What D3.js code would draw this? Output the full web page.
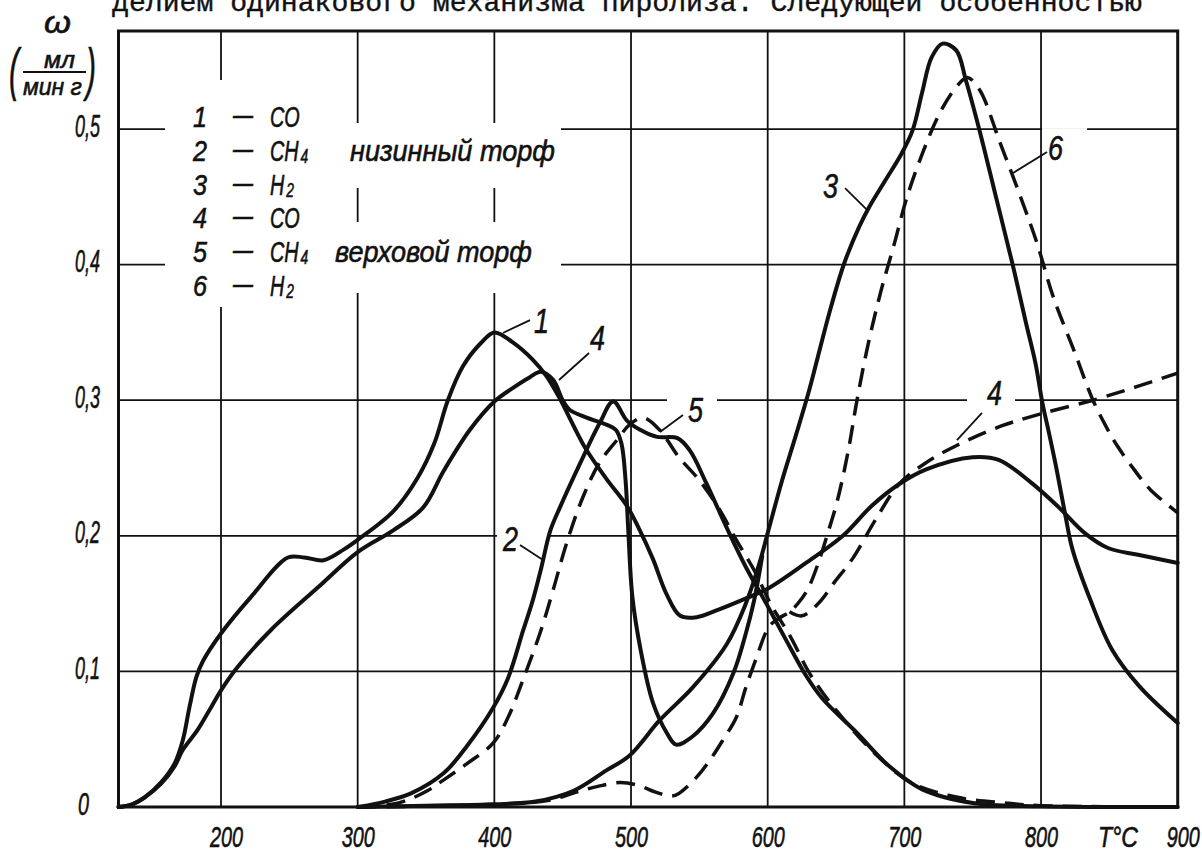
<!DOCTYPE html>
<html><head><meta charset="utf-8">
<script src="https://cdn.jsdelivr.net/npm/d3@7"></script>
<style>
html,body{margin:0;padding:0;background:#fff;}
svg{display:block;}
</style></head>
<body><svg id="chart" width="1202" height="854"></svg>
<script>
// ---------------- data ----------------
const xTicks = [200, 300, 400, 500, 600, 700, 800, 900];
const xGrid  = [200, 300, 400, 500, 600, 700, 800];
const yTicks = [0, 0.1, 0.2, 0.3, 0.4, 0.5];
const yGrid  = [0.1, 0.2, 0.3, 0.4, 0.5];

// 1 — CO, низинный торф (solid)
const co_low = [[125,0],[135,0.002],[144,0.007],[156,0.018],[166,0.032],[172,0.049],[177,0.074],[182,0.096],[187,0.108],[200,0.128],[222,0.155],[249,0.184],[261,0.184],[275,0.182],[290,0.19],[300,0.197],[326,0.218],[344,0.243],[356,0.268],[366,0.300],[377,0.325],[390,0.342],[400,0.35],[413,0.343],[428,0.33],[438,0.318],[448,0.301],[458,0.281],[467,0.264],[482,0.242],[497,0.222],[506,0.205],[516,0.183],[526,0.157],[536,0.141],[548,0.140],[565,0.146],[582,0.153],[600,0.161],[628,0.18],[655,0.2],[676,0.222],[696,0.238],[716,0.249],[750,0.258],[769,0.256],[793,0.239],[813,0.221],[832,0.202],[849,0.191],[871,0.186],[900,0.18]];
// 2 — CH4, низинный торф (solid)
const ch4_low = [[300,0],[320,0.004],[339,0.01],[363,0.025],[380,0.045],[399,0.073],[410,0.095],[421,0.13],[428,0.152],[434,0.175],[441,0.204],[448,0.221],[463,0.254],[477,0.283],[487,0.299],[497,0.285],[507,0.278],[519,0.273],[534,0.272],[543,0.263],[555,0.239],[570,0.206],[584,0.177],[599,0.150],[613,0.124],[628,0.097],[640,0.08],[665,0.055],[689,0.03],[713,0.013],[750,0.003],[800,0.0005],[900,0]];
// 3 — H2, низинный торф (solid)
const h2_low = [[300,0],[350,0.001],[400,0.002],[430,0.004],[458,0.012],[482,0.027],[499,0.038],[521,0.064],[545,0.088],[570,0.12],[584,0.15],[594,0.18],[600,0.202],[610,0.239],[620,0.272],[630,0.306],[638,0.337],[645,0.364],[656,0.401],[667,0.428],[674,0.442],[686,0.462],[698,0.482],[706,0.499],[713,0.527],[720,0.553],[728,0.563],[738,0.558],[745,0.536],[755,0.499],[767,0.45],[779,0.401],[789,0.357],[796,0.327],[801,0.298],[806,0.275],[811,0.251],[818,0.214],[823,0.19],[836,0.153],[852,0.116],[872,0.089],[900,0.062]];
// 4 — CO, верховой торф (solid part)
const co_high = [[125,0],[135,0.002],[144,0.007],[156,0.017],[166,0.03],[172,0.042],[183,0.057],[193,0.074],[200,0.086],[212,0.103],[236,0.13],[271,0.162],[300,0.188],[326,0.204],[348,0.221],[363,0.248],[382,0.278],[400,0.299],[412,0.308],[426,0.317],[434,0.321],[443,0.315],[450,0.300],[455,0.293],[468,0.287],[482,0.282],[489,0.278],[493,0.268],[496,0.241],[498,0.204],[501,0.155],[507,0.116],[516,0.077],[526,0.055],[533,0.046],[545,0.052],[560,0.069],[575,0.099],[584,0.128],[590,0.152],[596,0.185]];
// 4 — CO, верховой торф (dashed part)
const co_high_tail = [[616,0.144],[625,0.141],[637,0.15],[649,0.166],[662,0.183],[679,0.212],[696,0.238],[716,0.254],[739,0.267],[771,0.281],[800,0.29],[838,0.30],[870,0.31],[900,0.32]];
// 5 — CH4, верховой торф (dashed)
const ch4_high = [[300,0],[330,0.003],[351,0.012],[363,0.02],[380,0.032],[399,0.047],[410,0.066],[421,0.094],[434,0.13],[443,0.16],[453,0.195],[465,0.229],[477,0.254],[490,0.271],[499,0.282],[509,0.287],[521,0.278],[535,0.258],[550,0.241],[565,0.219],[577,0.197],[591,0.173],[602,0.150],[617,0.125],[631,0.098],[652,0.069],[681,0.037],[705,0.018],[737,0.0075],[774,0.003],[800,0.001],[900,0]];
// 6 — H2, верховой торф (dashed)
const h2_high = [[300,0],[400,0.002],[440,0.005],[460,0.011],[475,0.015],[492,0.018],[505,0.016],[518,0.011],[529,0.008],[535,0.010],[548,0.022],[558,0.035],[567,0.049],[577,0.066],[584,0.088],[591,0.108],[601,0.133],[608,0.139],[616,0.144],[622,0.150],[629,0.16],[636,0.177],[644,0.202],[651,0.226],[659,0.263],[665,0.298],[673,0.339],[683,0.381],[692,0.413],[702,0.45],[714,0.484],[726,0.512],[738,0.531],[746,0.538],[755,0.529],[770,0.49],[785,0.45],[797,0.416],[809,0.376],[824,0.337],[838,0.300],[849,0.278],[856,0.266],[868,0.249],[880,0.234],[900,0.217]];

const legendNums  = ["1", "2", "3", "4", "5", "6"];
const legendGases = ["CO", "CH", "H", "CO", "CH", "H"];
const legendSubs  = ["", "4", "2", "", "4", "2"];
const peatTypes   = ["низинный торф", "верховой торф"];
const titleText   = "делием одинакового механизма пиролиза. Следующей особенностью";
const yName = "ω", unitTop = "мл", unitBottom = "мин г", xName = "T°C";

// ---------------- setup ----------------
const INK = "#111";
const FONT = "'Liberation Sans','DejaVu Sans',Arial,sans-serif";
const svg = d3.select("#chart");
svg.append("rect").attr("width", 1202).attr("height", 854).attr("fill", "#fff");

const x = d3.scaleLinear().domain([125, 900]).range([118.5, 1177.7]);
const y = d3.scaleLinear().domain([0, 0.5723]).range([807, 31]);

function styleText(t, size) {
  return t.attr("font-family", FONT).attr("font-style", "italic")
    .attr("font-size", size).attr("fill", INK)
    .attr("stroke", INK).attr("stroke-width", 0.6);
}
// condensed italic label: drawn at (px,py), squeezed horizontally to width w
function label(g, px, py, s, size, w) {
  const t = styleText(g.append("text"), size).attr("x", 0).attr("y", 0).text(s);
  const nat = t.node().getComputedTextLength();
  const sx = w && nat ? w / nat : 1;
  t.attr("transform", `translate(${px},${py}) scale(${sx},1)`);
  return t;
}

// title (page text, cut by top edge as in the scan)
svg.append("text").attr("x", 112).attr("y", 11)
  .attr("font-family", "'Liberation Mono','DejaVu Sans Mono',monospace")
  .attr("font-size", 28).attr("fill", INK).attr("stroke", INK).attr("stroke-width", 0.4)
  .attr("textLength", 1030).attr("lengthAdjust", "spacingAndGlyphs")
  .text(titleText);

// ---------------- grid ----------------
const grid = svg.append("g").attr("stroke", INK).attr("stroke-width", 1.8);
grid.selectAll(".vg").data(xGrid).join("line")
  .attr("x1", d => x(d)).attr("x2", d => x(d))
  .attr("y1", y(0)).attr("y2", y(0.5723));
grid.selectAll(".hg").data(yGrid).join("line")
  .attr("x1", x(125)).attr("x2", x(900))
  .attr("y1", d => y(d)).attr("y2", d => y(d));

// white-outs behind legend (interrupt grid)
const wo = svg.append("g").attr("fill", "#fff");
wo.append("rect").attr("x", 165).attr("y", 80).attr("width", 145).attr("height", 227);
wo.append("rect").attr("x", 300).attr("y", 123).attr("width", 261).attr("height", 65);
wo.append("rect").attr("x", 300).attr("y", 222).attr("width", 261).attr("height", 71);

// ---------------- curves ----------------
const series = [
  {data: co_low, dashed: false},
  {data: ch4_low, dashed: false},
  {data: h2_low, dashed: false},
  {data: co_high, dashed: false},
  {data: co_high_tail, dashed: true},
  {data: ch4_high, dashed: true},
  {data: h2_high, dashed: true}
];
const line = d3.line().x(d => x(d[0])).y(d => y(d[1])).curve(d3.curveCatmullRom.alpha(0.5));

// curve annotations: anchor on curve (data units), leader start (data units), label offset (px)
const notes = [
  {t: "1", at: [406.3, 0.3496], from: [426.1, 0.3591], dx: 4, dy: 13},
  {t: "4", at: [447.3, 0.3149], from: [469.3, 0.3348], dx: 1, dy: -3},
  {t: "5", at: [521.2, 0.2765], from: [538.0, 0.2891], dx: 5, dy: 7, padL: 21, padR: 14},
  {t: "2", at: [435.6, 0.1822], from: [418.8, 0.1932], dx: -17, dy: 6, padL: 6, padR: 29},
  {t: "3", at: [672.7, 0.4403], from: [656.6, 0.4565], dx: -22, dy: 10},
  {t: "6", at: [779.5, 0.4676], from: [804.4, 0.4830], dx: 1, dy: 8, padL: 6, padR: 24},
  {t: "4", at: [738.5, 0.2706], from: [756.8, 0.2906], dx: 5, dy: -8, padL: 20, padR: 13}
];
notes.forEach(n => {
  if (n.padL !== undefined) {
    const lx = x(n.from[0]) + n.dx, ly = y(n.from[1]) + n.dy;
    wo.append("rect").attr("x", lx - n.padL).attr("y", ly - 32)
      .attr("width", n.padL + 15 + n.padR).attr("height", 40);
  }
});

const cg = svg.append("g").attr("fill", "none").attr("stroke", INK)
  .attr("stroke-linejoin", "round");
series.forEach(s => {
  cg.append("path").attr("d", line(s.data))
    .attr("stroke-width", s.dashed ? 3.5 : 4)
    .attr("stroke-dasharray", s.dashed ? "19,10" : null)
    .attr("stroke-linecap", s.dashed ? "butt" : "round");
});

// frame
svg.append("rect").attr("x", x(125)).attr("y", y(0.5723))
  .attr("width", x(900) - x(125)).attr("height", y(0) - y(0.5723))
  .attr("fill", "none").attr("stroke", INK).attr("stroke-width", 3);

// annotations
const ag = svg.append("g");
notes.forEach(n => {
  ag.append("line").attr("x1", x(n.at[0])).attr("y1", y(n.at[1]))
    .attr("x2", x(n.from[0])).attr("y2", y(n.from[1]))
    .attr("stroke", INK).attr("stroke-width", 1.8);
  label(ag, x(n.from[0]) + n.dx, y(n.from[1]) + n.dy, n.t, 36, 15);
});

// ---------------- axes ----------------
function squeezeAxisText(sel, size, widthOf, dxOf, yOff) {
  sel.each(function(d) {
    const t = styleText(d3.select(this), size).attr("text-anchor", "start")
      .attr("x", 0).attr("y", 0).attr("dy", 0);
    const nat = this.getComputedTextLength();
    const w = widthOf(d);
    t.attr("transform", `translate(${dxOf(d)},${yOff}) scale(${w / nat},1)`);
  });
}
const xa = svg.append("g").attr("transform", `translate(0,${y(0)})`)
  .call(d3.axisBottom(x).tickValues(xTicks).tickSize(0).tickFormat(d3.format("d")));
xa.select(".domain").remove();
squeezeAxisText(xa.selectAll("text"), 29, () => 33,
  d => (d === 200 || d === 900 ? 5 : 0) - 16.5, 40);

const ya = svg.append("g").attr("transform", `translate(${x(125)},0)`)
  .call(d3.axisLeft(y).tickValues(yTicks).tickSize(0)
    .tickFormat(d => d === 0 ? "0" : d3.format(".1f")(d).replace(".", ",")));
ya.select(".domain").remove();
squeezeAxisText(ya.selectAll("text"), 31, d => d === 0 ? 11 : 25,
  d => d === 0 ? -40.5 : -43.5, 7);

// axis names
label(svg, 1098, 847, xName, 29, 40);
label(svg, 44, 33, yName, 32, 27);
label(svg, 44, 68, unitTop, 24, 31);
svg.append("line").attr("x1", 23).attr("x2", 86).attr("y1", 72).attr("y2", 72)
  .attr("stroke", INK).attr("stroke-width", 2);
label(svg, 23, 95, unitBottom, 24, 59);
label(svg, 9, 89, "(", 58, 10);
label(svg, 86, 89, ")", 58, 10);

// ---------------- legend (one text per column) ----------------
const LS = 30;                       // legend font size (rows 33.8 px apart)
const lg = svg.append("g");
const rowY = i => 127 + i * 33.8;
function column(px, sx, rows) {
  const t = styleText(lg.append("text"), LS)
    .attr("transform", `translate(${px},0) scale(${sx},1)`);
  rows.forEach((r, i) => {
    t.append("tspan").attr("x", 0).attr("y", rowY(i) + (r.dy || 0)).text(r.s);
    if (r.sub) t.append("tspan").attr("font-size", 21).attr("dx", 3).attr("dy", 2).text(r.sub);
  });
  return t;
}
column(193, 0.84, legendNums.map(s => ({s})));
column(233, 0.667, legendNums.map(() => ({s: "—", dy: -2})));
column(270, 0.66, legendGases.map((s, i) => ({s, sub: legendSubs[i]})));
label(lg, 350, rowY(1), peatTypes[0], LS, 205);
label(lg, 335, rowY(4), peatTypes[1], LS, 197);
</script>
</body></html>
